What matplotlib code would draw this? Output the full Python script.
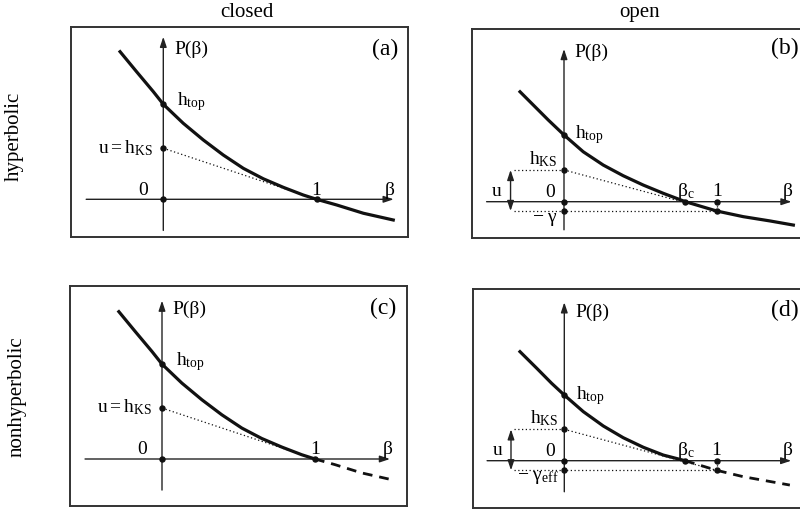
import matplotlib
matplotlib.use('Agg')
import matplotlib.pyplot as plt

plt.rcParams['font.family'] = ['Liberation Serif', 'DejaVu Serif']
plt.rcParams['mathtext.fontset'] = 'custom'
plt.rcParams['mathtext.rm'] = 'Liberation Serif'
plt.rcParams['mathtext.it'] = 'Liberation Serif:italic'
plt.rcParams['mathtext.bf'] = 'Liberation Serif:bold'

# ---------------- data ----------------
col_titles = ['closed', 'open']
row_labels = ['hyperbolic', 'nonhyperbolic']
panel_tags = ['(a)', '(b)', '(c)', '(d)']

# closed systems: pressure curve P(beta)
closed_beta = [-0.282, -0.174, -0.065, 0.0, 0.130, 0.261, 0.391, 0.522, 0.652, 0.783,
               0.913, 1.0, 1.131, 1.305, 1.500]
closed_P = [0.963, 0.832, 0.702, 0.620, 0.496, 0.387, 0.289, 0.202, 0.134, 0.078,
            0.028, 0.0, -0.037, -0.091, -0.135]
closed_htop = 0.620
closed_hks = 0.333

# open hyperbolic (b)
open_b_beta = [-0.288, -0.201, -0.103, 0.0, 0.126, 0.257, 0.388, 0.519, 0.650, 0.795,
               1.0, 1.174, 1.349, 1.502]
open_b_P = [0.720, 0.633, 0.535, 0.437, 0.327, 0.240, 0.170, 0.109, 0.055, 0.0,
            -0.061, -0.098, -0.126, -0.153]
open_b_htop = 0.437
open_b_hks = 0.208
open_b_gamma = 0.061
open_b_betac = 0.795

# open nonhyperbolic (d)
open_d_beta = [-0.291, -0.181, -0.083, 0.0, 0.125, 0.256, 0.387, 0.519, 0.650, 0.793,
               1.0, 1.175, 1.481]
open_d_P = [0.716, 0.607, 0.508, 0.431, 0.322, 0.228, 0.151, 0.088, 0.037, 0.0,
            -0.063, -0.105, -0.160]
open_d_htop = 0.431
open_d_hks = 0.206
open_d_gamma = 0.063
open_d_betac = 0.793

# ---------------- figure ----------------
W, H = 800, 512
fig = plt.figure(figsize=(W / 100, H / 100), dpi=100)

INK = '#111111'
AX_C = '#222222'
FS = 14


def make_panel(box, origin, scale):
    l, r, t, b = box
    ax = fig.add_axes([l / W, 1 - b / H, (r - l) / W, (b - t) / H])
    ox, oy = origin
    ax.set_xlim((l - ox) / scale, (r - ox) / scale)
    ax.set_ylim((oy - b) / scale, (oy - t) / scale)
    ax.set_xticks([])
    ax.set_yticks([])
    for sp in ax.spines.values():
        sp.set_linewidth(1.4)
        sp.set_color('#333333')
    return ax


def arrow(ax, x0, y0, x1, y1, style='-|>'):
    ax.annotate('', xy=(x1, y1), xytext=(x0, y0),
                arrowprops=dict(arrowstyle=style + ',head_length=0.6,head_width=0.2',
                                lw=1.0, color=AX_C, shrinkA=0, shrinkB=0),
                zorder=2)


def dotted(ax, xs, ys):
    ax.plot(xs, ys, color=INK, lw=0.9, linestyle=(0, (1, 2.0)), zorder=2)


def dots(ax, xs, ys):
    ax.plot(xs, ys, 'o', ms=3.6, color=INK, zorder=6)


def base_axes(ax, xr, yr, tag, tag_y):
    arrow(ax, xr[0], 0, xr[1], 0)
    arrow(ax, 0, yr[0], 0, yr[1])
    ax.text(0.07, 0.945, 'P(β)', fontsize=FS, ha='left', va='baseline')
    ax.text(1.445, tag_y, tag, fontsize=17, ha='center', va='baseline')


def closed_labels(ax, htop, hks):
    ax.text(0.09, htop - 0.01, r'$\mathregular{h_{top}}$', fontsize=FS, ha='left', va='baseline')
    ax.text(-0.065, hks - 0.03, r'$\mathregular{u = h_{KS}}$', fontsize=FS, ha='right', va='baseline')
    ax.text(-0.13, 0.03, '0', fontsize=FS, ha='center', va='baseline')
    ax.text(1.0, 0.03, '1', fontsize=FS, ha='center', va='baseline')
    ax.text(1.477, 0.03, 'β', fontsize=FS, ha='center', va='baseline')


# (a) closed hyperbolic
ax = make_panel((71, 408, 27, 237), (163.3, 199.3), 153.3)
base_axes(ax, (-0.503, 1.503), (-0.203, 1.06), panel_tags[0], 0.94)
dotted(ax, [0, 1], [closed_hks, 0])
ax.plot(closed_beta, closed_P, color=INK, lw=2.3, solid_joinstyle='round', zorder=4)
dots(ax, [0, 0, 0, 1], [0, closed_htop, closed_hks, 0])
closed_labels(ax, closed_htop, closed_hks)

# (c) closed nonhyperbolic
ax = make_panel((70, 407, 286, 506), (162, 459), 153)
base_axes(ax, (-0.503, 1.49), (-0.203, 1.035), panel_tags[2], 0.95)
dotted(ax, [0, 1], [closed_hks, 0])
i1 = closed_beta.index(1.0)
ax.plot(closed_beta[:i1 + 1], closed_P[:i1 + 1], color=INK, lw=2.3, solid_joinstyle='round', zorder=4)
ax.plot(closed_beta[i1:], closed_P[i1:], color=INK, lw=2.0, linestyle=(0, (3.5, 2.5)), zorder=4)
dots(ax, [0, 0, 0, 1], [0, closed_htop, closed_hks, 0])
closed_labels(ax, closed_htop, closed_hks)


def open_panel(box, origin, scale, beta, P, htop, hks, gamma, betac, tag, tag_y,
               gamma_label, dashed_from_c, yr):
    ax = make_panel(box, origin, scale)
    base_axes(ax, (-0.507, 1.49), yr, tag, tag_y)
    ux = -0.35
    dotted(ax, [ux + 0.02, 0], [hks, hks])
    dotted(ax, [ux + 0.02, 1], [-gamma, -gamma])
    dotted(ax, [1, 1], [0, -gamma])
    dotted(ax, [0, 1], [hks, -gamma])
    arrow(ax, ux, -gamma, ux, hks, style='<|-|>')
    if dashed_from_c:
        ic = beta.index(betac)
        ax.plot(beta[:ic + 1], P[:ic + 1], color=INK, lw=2.3, solid_joinstyle='round', zorder=4)
        ax.plot(beta[ic:], P[ic:], color=INK, lw=2.0, linestyle=(0, (3.5, 2.5)), zorder=4)
    else:
        ax.plot(beta, P, color=INK, lw=2.3, solid_joinstyle='round', zorder=4)
    dots(ax, [0, 0, 0, 0, betac, 1, 1], [0, htop, hks, -gamma, 0, 0, -gamma])
    ax.text(0.075, htop - 0.025, r'$\mathregular{h_{top}}$', fontsize=FS, ha='left', va='baseline')
    ax.text(-0.04, hks + 0.04, r'$\mathregular{h_{KS}}$', fontsize=FS, ha='right', va='baseline')
    ax.text(-0.44, 0.035, 'u', fontsize=FS, ha='center', va='baseline')
    ax.text(-0.092, 0.03, '0', fontsize=FS, ha='center', va='baseline')
    ax.text(betac + 0.005, 0.035, r'$\mathregular{β_c}$', fontsize=FS, ha='center', va='baseline')
    ax.text(1.0, 0.035, '1', fontsize=FS, ha='center', va='baseline')
    ax.text(1.467, 0.035, 'β', fontsize=FS, ha='center', va='baseline')
    ax.text(-0.04, -0.13, gamma_label, fontsize=FS, ha='right', va='baseline')
    return ax


open_panel((472, 809, 29, 238), (564, 201.7), 152.7, open_b_beta, open_b_P,
           open_b_htop, open_b_hks, open_b_gamma, open_b_betac, panel_tags[1], 0.965,
           r'$\mathregular{-\ γ}$', False, (-0.184, 1.0))
open_panel((473, 810, 289, 508), (564.3, 460.7), 152.3, open_d_beta, open_d_P,
           open_d_htop, open_d_hks, open_d_gamma, open_d_betac, panel_tags[3], 0.947,
           r'$\mathregular{-\ γ_{eff}}$', True, (-0.204, 1.04))

# column titles and row labels
fig.text(247 / W, 1 - 17 / H, col_titles[0], fontsize=15, ha='center', va='baseline')
fig.text(640 / W, 1 - 17 / H, col_titles[1], fontsize=15, ha='center', va='baseline')
fig.text(14 / W, 1 - 136 / H, row_labels[0], fontsize=15, ha='center', va='center', rotation=90)
fig.text(17 / W, 1 - 397 / H, row_labels[1], fontsize=15, ha='center', va='center', rotation=90)

fig.savefig('out.png', dpi=100)
